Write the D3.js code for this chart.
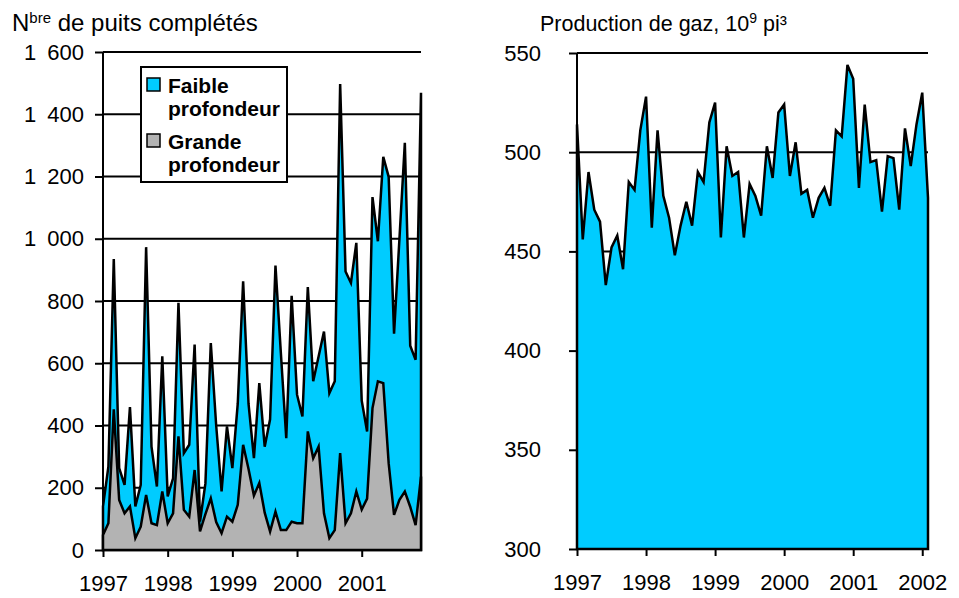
<!DOCTYPE html>
<html>
<head>
<meta charset="utf-8">
<script src="https://cdn.jsdelivr.net/npm/d3@7"></script>
<style>
  body { margin: 0; background: #fff; }
  text { font-family: "Liberation Sans", Arial, sans-serif; fill: #000; }
  .axis path, .axis line { stroke: #000; stroke-width: 2px; }
  .axis text { font-size: 22px; }
</style>
</head>
<body>
<div id="vis-container"></div>
<script>
// Puits completes par mois, janv. 1997 - dec. 2001
var months = d3.range(60);
var faible = [140, 268, 935, 263, 209, 459, 140, 209, 973, 332, 204, 622,
              172, 230, 794, 311, 338, 660, 91, 214, 665, 400, 188, 397,
              263, 470, 863, 470, 295, 536, 332, 420, 914, 633, 359, 817,
              499, 429, 845, 542, 622, 702, 504, 542, 1497, 895, 858, 987,
              480, 381, 1134, 992, 1263, 1199, 695, 1000, 1308, 656, 611, 1469];
var grande = [48, 86, 452, 161, 118, 140, 38, 75, 177, 86, 80, 188,
              86, 118, 365, 129, 107, 257, 60, 115, 166, 90, 54, 107,
              91, 145, 338, 260, 175, 215, 120, 59, 123, 64, 64, 91,
              86, 86, 381, 295, 332, 118, 38, 64, 311, 86, 118, 188,
              130, 165, 456, 542, 536, 279, 113, 161, 188, 139, 80, 236];
var wellYears = ["1997", "1998", "1999", "2000", "2001"];
var wellTicks = [0, 200, 400, 600, 800, 1000, 1200, 1400, 1600];

// Production de gaz, janv. 1997 - fevr. 2002
var gas = [514, 456, 490, 471, 465, 433, 452, 458, 441, 485, 481, 511,
           528, 462, 511, 478, 467, 448, 463, 475, 463, 490, 485, 515,
           525, 457, 503, 488, 490, 457, 484, 478, 468, 503, 487, 520,
           524, 488, 505, 479, 481, 467, 477, 482, 473, 511, 508, 544,
           537, 482, 524, 495, 496, 470, 498, 497, 471, 512, 493, 514,
           530, 477];
var gasYears = ["1997", "1998", "1999", "2000", "2001", "2002"];
var gasTicks = [300, 350, 400, 450, 500, 550];

var blue = "#00CCFF";
var grey = "#B3B3B3";

var svg = d3.select("#vis-container")
  .append("svg")
    .attr("width", 959)
    .attr("height", 598);

// thousands separated by a space, french style
var fr = d3.formatLocale({decimal: ",", thousands: "\u2002", grouping: [3], currency: ["", ""]});
var fmt = fr.format(",");

//---------------- left chart: wells ----------------
var x1 = d3.scaleLinear().domain([0, 59]).range([103, 421]);
var y1 = d3.scaleLinear().domain([0, 1600]).range([550, 52]);

var left = svg.append("g");

// gridlines
left.selectAll(".grid")
  .data(wellTicks.slice(1))
  .enter().append("line")
    .attr("x1", x1(0)).attr("x2", x1(59))
    .attr("y1", function(d) { return y1(d); })
    .attr("y2", function(d) { return y1(d); })
    .style("stroke", "#000").style("stroke-width", 2);

var area1 = function(vals) {
  return d3.area()
    .x(function(d) { return x1(d); })
    .y0(y1(0))
    .y1(function(d) { return y1(vals[d]); })(months);
};

left.append("path")
  .attr("d", area1(faible))
  .style("fill", blue).style("stroke", "#000").style("stroke-width", 2.5);
left.append("path")
  .attr("d", area1(grande))
  .style("fill", grey).style("stroke", "#000").style("stroke-width", 2.5);

// axes
left.append("g")
  .attr("class", "axis")
  .attr("transform", "translate(" + x1(0) + ",0)")
  .call(d3.axisLeft(y1).tickValues(wellTicks).tickSize(8).tickPadding(11).tickFormat(fmt))
  .call(function(g) { g.select(".domain").attr("d", "M0," + y1(1600) + "V" + y1(0)); });

left.append("g")
  .attr("class", "axis")
  .attr("transform", "translate(0," + y1(0) + ")")
  .call(d3.axisBottom(x1).tickValues([0, 12, 24, 36, 48]).tickSize(7).tickPadding(18)
        .tickFormat(function(d, i) { return wellYears[i]; }))
  .call(function(g) { g.select(".domain").attr("d", "M" + x1(0) + ",0H" + x1(59)); });

// title
var t1 = left.append("text").attr("x", 12).attr("y", 31).style("font-size", "24px");
t1.append("tspan").text("N");
t1.append("tspan").attr("dy", -8).style("font-size", "15px").text("bre");
t1.append("tspan").attr("dy", 8).text(" de puits complétés");

// legend
var legend = left.append("g");
legend.append("rect")
  .attr("x", 141).attr("y", 67).attr("width", 146).attr("height", 115)
  .style("fill", "#fff").style("stroke", "#000").style("stroke-width", 2);
var legendItems = [
  {name: ["Faible", "profondeur"], color: blue},
  {name: ["Grande", "profondeur"], color: grey}
];
legendItems.forEach(function(item, i) {
  var top = 77 + i * 56;
  legend.append("rect")
    .attr("x", 147).attr("y", top + 1).attr("width", 13).attr("height", 13)
    .style("fill", item.color).style("stroke", "#000").style("stroke-width", 1.5);
  item.name.forEach(function(line, j) {
    legend.append("text")
      .attr("x", 168).attr("y", top + 16 + j * 23)
      .style("font-size", "21px").style("font-weight", "bold")
      .text(line);
  });
});

//---------------- right chart: gas ----------------
var gasIdx = d3.range(gas.length);
var x2 = d3.scaleLinear().domain([0, 61]).range([577, 928]);
var y2 = d3.scaleLinear().domain([300, 550]).range([549, 53]);

var right = svg.append("g");

right.selectAll(".grid")
  .data(gasTicks.slice(1))
  .enter().append("line")
    .attr("x1", x2(0)).attr("x2", x2(61))
    .attr("y1", function(d) { return y2(d); })
    .attr("y2", function(d) { return y2(d); })
    .style("stroke", "#000").style("stroke-width", 2);

right.append("path")
  .attr("d", d3.area()
    .x(function(d) { return x2(d); })
    .y0(y2(300))
    .y1(function(d) { return y2(gas[d]); })(gasIdx))
  .style("fill", blue).style("stroke", "#000").style("stroke-width", 2.5);

right.append("g")
  .attr("class", "axis")
  .attr("transform", "translate(" + x2(0) + ",0)")
  .call(d3.axisLeft(y2).tickValues(gasTicks).tickSize(8).tickPadding(28))
  .call(function(g) { g.select(".domain").attr("d", "M0," + y2(550) + "V" + y2(300)); });

right.append("g")
  .attr("class", "axis")
  .attr("transform", "translate(0," + y2(300) + ")")
  .call(d3.axisBottom(x2).tickValues([0, 12, 24, 36, 48, 60]).tickSize(7).tickPadding(18)
        .tickFormat(function(d, i) { return gasYears[i]; }))
  .call(function(g) { g.select(".domain").attr("d", "M" + x2(0) + ",0H" + x2(61)); });

var t2 = right.append("text").attr("x", 540).attr("y", 31).style("font-size", "21.5px");
t2.append("tspan").text("Production de gaz, 10");
t2.append("tspan").attr("dy", -8).style("font-size", "14px").text("9");
t2.append("tspan").attr("dy", 8).text(" pi³");
</script>
</body>
</html>
